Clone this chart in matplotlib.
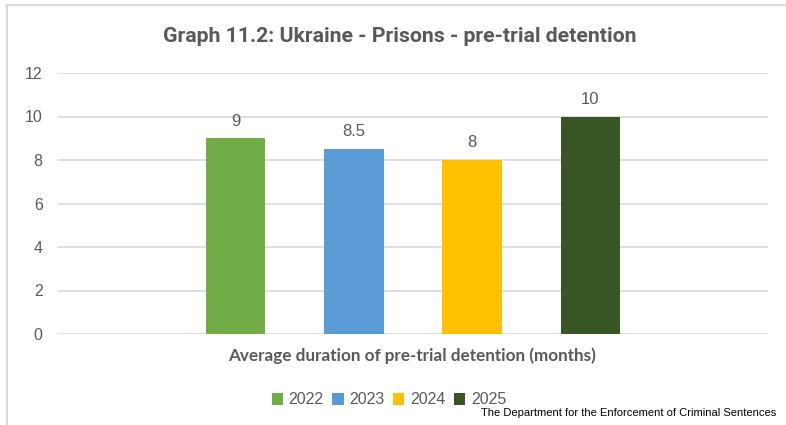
import matplotlib.pyplot as plt
from matplotlib.patches import Patch
from matplotlib.lines import Line2D

years = ['2022', '2023', '2024', '2025']
values = [9, 8.5, 8, 10]
value_labels = ['9', '8.5', '8', '10']
colors = ['#70AD47', '#5B9BD5', '#FFC000', '#375623']
category = 'Average duration of pre-trial detention (months)'
title = 'Graph 11.2: Ukraine - Prisons - pre-trial detention'
source = 'The Department for the Enforcement of Criminal Sentences'
yticks = [0, 2, 4, 6, 8, 10, 12]

grey = '#595959'

fig = plt.figure(figsize=(7.86, 4.25), dpi=100)
ax = fig.add_axes([58 / 786, 1 - 334 / 425, 710 / 786, 261 / 425])

positions = [1.5, 2.5, 3.5, 4.5]
bars = ax.bar(positions, values, width=0.507, color=colors, zorder=3)
for b, lab in zip(bars, value_labels):
    ax.annotate(lab, (b.get_x() + b.get_width() / 2, b.get_height()),
                xytext=(0, 7), textcoords='offset points', ha='center', va='bottom',
                fontsize=12, color=grey, family='Liberation Sans')

ax.set_xlim(0, 6)
ax.set_ylim(0, 12)
ax.set_yticks(yticks)
ax.set_yticklabels([str(t) for t in yticks], fontsize=11.5, color=grey, family='Liberation Sans')
ax.set_xticks([])
ax.grid(axis='y', color='#D9D9D9', linewidth=1.2, zorder=0)
ax.tick_params(axis='y', length=0, pad=11)
for s in ax.spines.values():
    s.set_visible(False)

fig.text(400 / 786, 1 - 37 / 425, title, ha='center', va='center',
         fontsize=15.3, color=grey, family='Roboto', fontweight='bold')
fig.text(412 / 786, 1 - 356 / 425, category, ha='center', va='center',
         fontsize=12.3, color=grey, family='Lato', fontweight='bold')

handles = [Patch(facecolor=c) for c in colors]
leg = fig.legend(handles, years, loc='center', bbox_to_anchor=(389 / 786, 1 - 400 / 425),
                 ncol=4, frameon=False, handlelength=0.7, handleheight=0.7,
                 handletextpad=0.35, columnspacing=0.55,
                 prop={'family': 'Liberation Sans', 'size': 11.5})
for t in leg.get_texts():
    t.set_color(grey)

fig.text(776 / 786, 1 - 413 / 425, source, ha='right', va='center',
         fontsize=8, color='black', family='Liberation Sans')

# chart border
fig.add_artist(Line2D([6 / 786, 1], [1 - 5 / 425, 1 - 5 / 425], color='#D9D9D9', linewidth=1.5))
fig.add_artist(Line2D([7 / 786, 7 / 786], [0, 1 - 5 / 425], color='#D9D9D9', linewidth=1.5))

fig.savefig('out.png', dpi=100)
